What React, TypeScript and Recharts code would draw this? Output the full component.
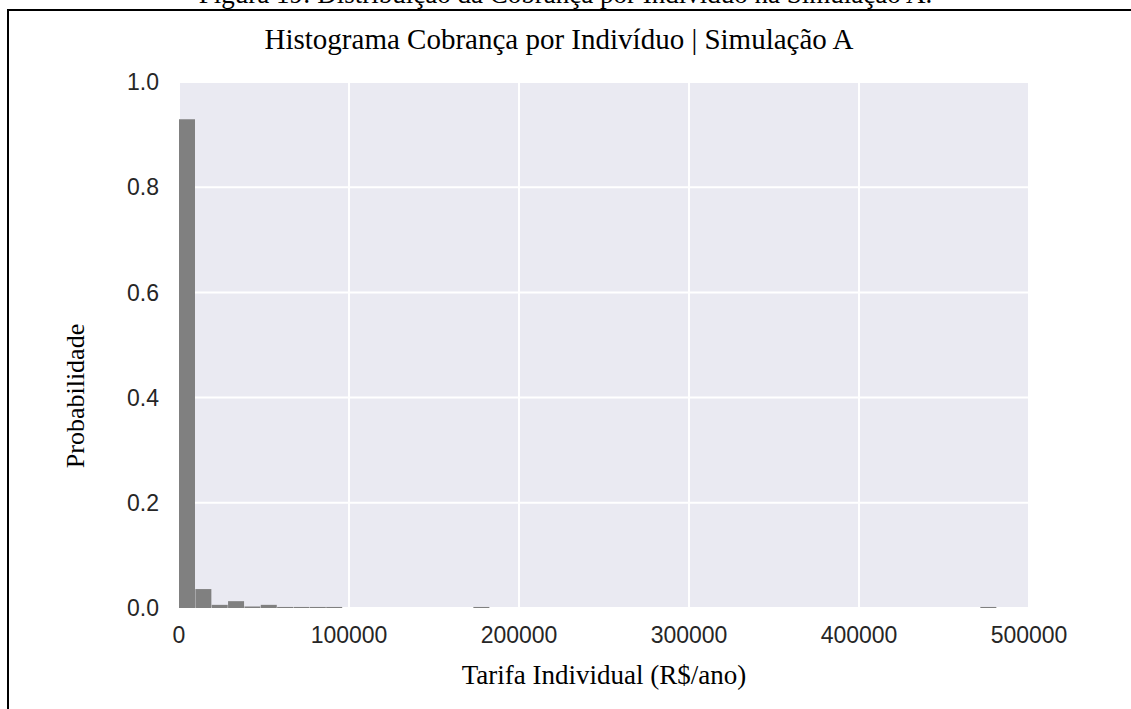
import React from "react";
import { BarChart, Bar, XAxis, YAxis, CartesianGrid } from "recharts";

// histogram bins: left edge of the first bin and width of each bin (R$/ano)
const binStart = 0;
const binWidth = 9620;

// probability of each of the 50 bins
const probabilities = [
  0.929, 0.036, 0.006, 0.013, 0.003, 0.006, 0.002, 0.002, 0.002, 0.002,
  0, 0, 0, 0, 0, 0, 0, 0, 0.002, 0,
  0, 0, 0, 0, 0, 0, 0, 0, 0, 0,
  0, 0, 0, 0, 0, 0, 0, 0, 0, 0,
  0, 0, 0, 0, 0, 0, 0, 0, 0, 0.002,
];

const xTicks = [0, 100000, 200000, 300000, 400000, 500000];
const yTicks = [0, 0.2, 0.4, 0.6, 0.8, 1.0];

const data = probabilities.map((p, i) => ({
  center: binStart + binWidth * (i + 0.5),
  prob: p,
}));

const serif = "'Liberation Serif', 'Times New Roman', serif";
const sans = "'Liberation Sans', Arial, sans-serif";

const App: React.FC = () => {
  return (
    <div
      style={{
        position: "absolute",
        left: 0,
        top: 0,
        width: 1131,
        height: 709,
        overflow: "hidden",
        background: "#fff",
      }}
    >
      {/* figure caption, cut off by the page top */}
      <div
        style={{
          position: "absolute",
          top: -21,
          left: 0,
          width: 1131,
          textAlign: "center",
          fontFamily: serif,
          fontSize: 27,
          color: "#000",
          whiteSpace: "nowrap",
        }}
      >
        Figura 19: Distribuição da Cobrança por Indivíduo na Simulação A.
      </div>

      {/* frame around the figure */}
      <div
        style={{
          position: "absolute",
          left: 7,
          top: 9,
          width: 1300,
          height: 900,
          borderLeft: "2px solid #000",
          borderTop: "2px solid #000",
        }}
      />

      <div style={{ position: "absolute", left: 0, top: 0 }}>
        <BarChart
          width={1131}
          height={709}
          data={data}
          margin={{ top: 82, right: 102, bottom: 0, left: 0 }}
          barCategoryGap={0}
          barGap={0}
        >
          <CartesianGrid stroke="#fff" strokeWidth={2} fill="#EAEAF2" />
          <XAxis
            dataKey="center"
            type="number"
            domain={[0, 500000]}
            ticks={xTicks}
            axisLine={false}
            tickLine={false}
            tickSize={0}
            tickMargin={19}
            height={101}
            interval={0}
            tick={{ fontFamily: sans, fontSize: 23, fill: "#262626" }}
          />
          <YAxis
            type="number"
            domain={[0, 1]}
            ticks={yTicks}
            axisLine={false}
            tickLine={false}
            tickSize={0}
            tickMargin={20}
            width={179}
            interval={0}
            tickFormatter={(v: number) => v.toFixed(1)}
            tick={{ fontFamily: sans, fontSize: 23, fill: "#262626" }}
          />
          <Bar dataKey="prob" fill="#808080" isAnimationActive={false} />
        </BarChart>
      </div>

      {/* title */}
      <div
        style={{
          position: "absolute",
          top: 23,
          left: 0,
          width: 1118,
          textAlign: "center",
          fontFamily: serif,
          fontSize: 29,
          color: "#000",
          whiteSpace: "nowrap",
        }}
      >
        Histograma Cobrança por Indivíduo | Simulação A
      </div>

      {/* x label */}
      <div
        style={{
          position: "absolute",
          top: 660,
          left: 179,
          width: 850,
          textAlign: "center",
          fontFamily: serif,
          fontSize: 27,
          color: "#000",
          whiteSpace: "nowrap",
        }}
      >
        Tarifa Individual (R$/ano)
      </div>

      {/* y label */}
      <div
        style={{
          position: "absolute",
          left: 76,
          top: 396,
          transform: "translate(-50%, -50%) rotate(-90deg)",
          fontFamily: serif,
          fontSize: 26,
          color: "#000",
          whiteSpace: "nowrap",
        }}
      >
        Probabilidade
      </div>
    </div>
  );
};

export default App;
